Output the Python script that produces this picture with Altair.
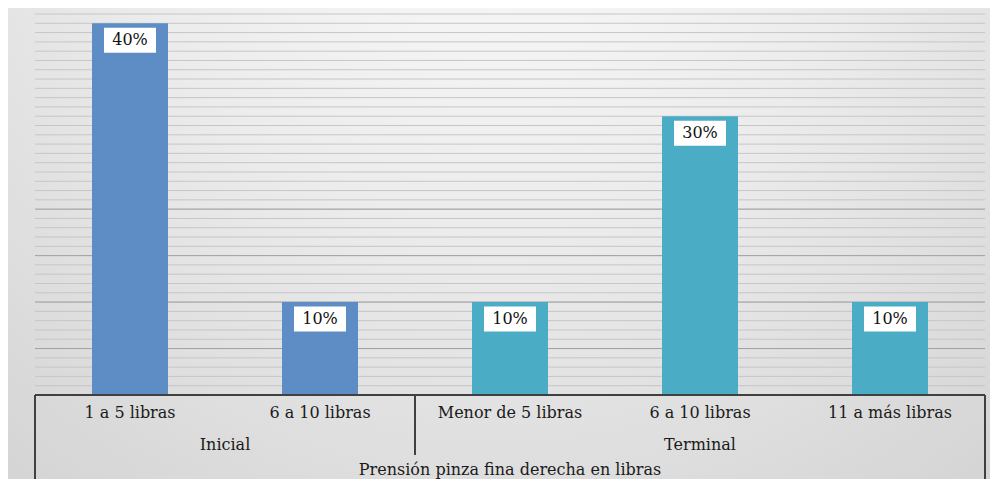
import altair as alt
import pandas as pd

# ---- data ----
groups = ["Inicial", "Inicial", "Terminal", "Terminal", "Terminal"]
categories = ["1 a 5 libras", "6 a 10 libras", "Menor de 5 libras", "6 a 10 libras", "11 a más libras"]
percents = [0.40, 0.10, 0.10, 0.30, 0.10]
group_names = ["Inicial", "Terminal"]
group_colors = ["#5E8CC4", "#4BACC6"]
axis_title = "Prensión pinza fina derecha en libras"
minor_grid = [i / 100 for i in range(1, 42)]
major_grid = [0.05, 0.10, 0.15, 0.20]

W, H = 950, 381
PAD = {"left": 27, "top": 6, "right": 5, "bottom": 84}
FONT = "DejaVu Serif"
FS = 16

df = pd.DataFrame({"group": groups, "category": categories, "pct": percents})
df["pos"] = range(len(df))
df["x0"] = df["pos"] + 0.3
df["x1"] = df["pos"] + 0.7
df["xc"] = df["pos"] + 0.5
df["zero"] = 0.0
df["label"] = (df["pct"] * 100).round().astype(int).astype(str) + "%"

g = df.groupby("group", sort=False)["pos"].agg(["min", "max"]).reset_index()
g["start"] = g["min"]
g["end"] = g["max"] + 1
g["center"] = (g["start"] + g["end"]) / 2

n = len(df)
bounds = sorted(set([0] + list(g["end"])))
sep = pd.DataFrame({"b": bounds})
sep["outer"] = sep["b"].isin([0, n])
title_df = pd.DataFrame({"t": [axis_title], "c": [n / 2]})
base_df = pd.DataFrame({"v": [0.0]})
minor_df = pd.DataFrame({"v": minor_grid})
major_df = pd.DataFrame({"v": major_grid})

xscale = alt.Scale(domain=[0, n], nice=False, zero=False)
yscale = alt.Scale(domain=[0, 0.41], nice=False)

# decorative chart-area background (radial grey gradient)
backdrop = alt.Chart(base_df).mark_rect(
    color=alt.RadialGradient(
        gradient="radial",
        stops=[alt.GradientStop(color="#fbfbfb", offset=0),
               alt.GradientStop(color="#ececec", offset=0.45),
               alt.GradientStop(color="#d2d2d2", offset=1)],
        x1=0.5, y1=0.1, x2=0.5, y2=0.1, r1=0, r2=0.85,
    )
).encode(
    x=alt.value(-PAD["left"]), x2=alt.value(W + PAD["right"]),
    y=alt.value(-PAD["top"]), y2=alt.value(H + PAD["bottom"]),
)

minor_rules = alt.Chart(minor_df).mark_rule(color="#c6c6c6", strokeWidth=1).encode(
    y=alt.Y("v:Q", scale=yscale, axis=None)
)
major_rules = alt.Chart(major_df).mark_rule(color="#a3a3a3", strokeWidth=1).encode(
    y=alt.Y("v:Q", scale=yscale, axis=None)
)

bars = alt.Chart(df).mark_rect().encode(
    x=alt.X("x0:Q", scale=xscale, axis=None),
    x2="x1:Q",
    y=alt.Y("pct:Q", scale=yscale, axis=None),
    y2="zero:Q",
    color=alt.Color("group:N", scale=alt.Scale(domain=group_names, range=group_colors), legend=None),
)

boxes = alt.Chart(df).mark_rect(width=52, height=25, color="white", yOffset=17).encode(
    x=alt.X("xc:Q", scale=xscale, axis=None),
    y=alt.Y("pct:Q", scale=yscale, axis=None),
)

labels = alt.Chart(df).mark_text(font=FONT, fontSize=FS, color="#111111", baseline="middle", dy=17).encode(
    x=alt.X("xc:Q", scale=xscale, axis=None),
    y=alt.Y("pct:Q", scale=yscale, axis=None),
    text="label:N",
)

baseline = alt.Chart(base_df).mark_rule(color="#404040", strokeWidth=2).encode(
    y=alt.Y("v:Q", scale=yscale, axis=None)
)

cat_text = alt.Chart(df).mark_text(font=FONT, fontSize=FS, color="#1a1a1a", baseline="middle").encode(
    x=alt.X("xc:Q", scale=xscale, axis=None),
    y=alt.value(H + 18),
    text="category:N",
)

grp_text = alt.Chart(g).mark_text(font=FONT, fontSize=FS, color="#1a1a1a", baseline="middle").encode(
    x=alt.X("center:Q", scale=xscale, axis=None),
    y=alt.value(H + 50),
    text="group:N",
)

ttl_text = alt.Chart(title_df).mark_text(font=FONT, fontSize=FS, color="#1a1a1a", baseline="middle").encode(
    x=alt.X("c:Q", scale=xscale, axis=None),
    y=alt.value(H + 75),
    text="t:N",
)

outer_rules = alt.Chart(sep[sep["outer"]]).mark_rule(color="#404040", strokeWidth=2).encode(
    x=alt.X("b:Q", scale=xscale, axis=None),
    y=alt.value(H),
    y2=alt.value(H + 90),
)

inner_rules = alt.Chart(sep[~sep["outer"]]).mark_rule(color="#404040", strokeWidth=2).encode(
    x=alt.X("b:Q", scale=xscale, axis=None),
    y=alt.value(H),
    y2=alt.value(H + 60),
)

chart = alt.layer(
    backdrop, minor_rules, major_rules, bars, boxes, labels, baseline,
    cat_text, grp_text, ttl_text, outer_rules, inner_rules
).properties(
    width=W,
    height=H,
    autosize=alt.AutoSizeParams(type="none"),
    padding=PAD,
).configure(
    background="#e4e4e4",
).configure_view(
    stroke=None,
)

chart.save("out.html", embed_options={"renderer": "svg", "actions": False})
